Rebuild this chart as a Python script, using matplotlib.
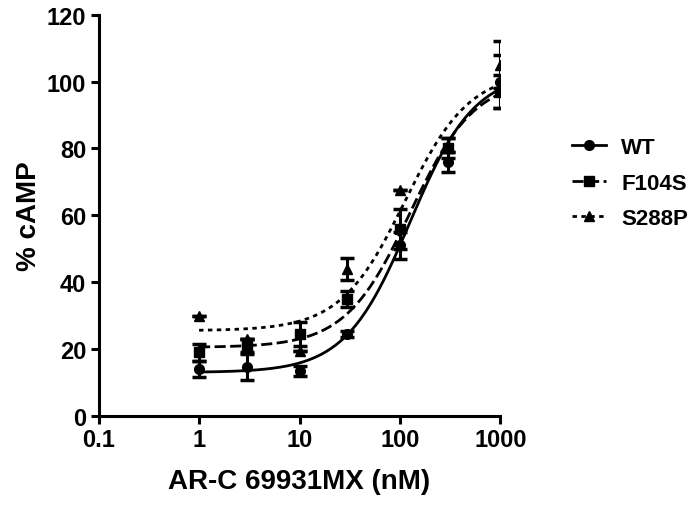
import numpy as np
import matplotlib
matplotlib.use('Agg')
import matplotlib.pyplot as plt

plt.rcParams['font.family'] = ['Liberation Sans', 'DejaVu Sans']
plt.rcParams['font.weight'] = 'bold'

# concentrations (nM)
conc = [1, 3, 10, 30, 100, 300, 1000]

wt_mean = [14, 14.6, 13.5, 24.5, 51, 76, 100]
wt_err = [2.5, 4, 1.5, 0.8, 4, 3, 8]
f104s_mean = [19, 21, 24.5, 35, 56, 80, 97]
f104s_err = [2.5, 2, 3.5, 2.5, 6, 3, 5]
s288p_mean = [30, 23, 19.5, 44, 67.5, 81, 105]
s288p_err = [0, 0, 0, 3.2, 0, 2, 7]

# fitted sigmoid parameters: bottom, top, logEC50, hill slope
wt_fit = [13, 103, 2.1, 1.35]
f104s_fit = [20.5, 101, 2.1, 1.35]
s288p_fit = [25.5, 103, 2.05, 1.35]

series = [
    ('WT', wt_mean, wt_err, wt_fit, 'o', '-'),
    ('F104S', f104s_mean, f104s_err, f104s_fit, 's', (0, (4, 1.6))),
    ('S288P', s288p_mean, s288p_err, s288p_fit, '^', (0, (1.6, 1.6))),
]


def sigmoid(x, bottom, top, logec50, hill):
    return bottom + (top - bottom) / (1 + 10 ** ((logec50 - np.log10(x)) * hill))


fig = plt.figure(figsize=(6.99, 5.06), dpi=100)
ax = fig.add_axes([0.141, 0.176, 0.575, 0.793])

xs = np.logspace(0, 3, 200)
handles = []
for name, mean, err, fit, mk, ls in series:
    ax.errorbar(conc, mean, yerr=err, fmt=mk, color='black', ms=7,
                elinewidth=2.2, capsize=5, capthick=2.5, zorder=3)
    ax.plot(xs, sigmoid(xs, *fit), color='black', lw=2, linestyle=ls)
    h, = ax.plot([], [], color='black', lw=2, linestyle=ls, marker=mk, ms=7)
    handles.append(h)

ax.set_xscale('log')
ax.set_xlim(0.1, 1000)
ax.set_ylim(0, 120)
ax.set_yticks(range(0, 121, 20))
ax.set_xticks([0.1, 1, 10, 100, 1000])
ax.set_xticklabels(['0.1', '1', '10', '100', '1000'])
ax.xaxis.set_minor_locator(matplotlib.ticker.NullLocator())

for s in ['top', 'right']:
    ax.spines[s].set_visible(False)
for s in ['left', 'bottom']:
    ax.spines[s].set_linewidth(2.2)
ax.tick_params(width=2.2, length=6, labelsize=17, pad=3)
for lab in ax.get_xticklabels() + ax.get_yticklabels():
    lab.set_fontweight('bold')

ax.set_xlabel('AR-C 69931MX (nM)', fontsize=20, fontweight='bold', labelpad=12)
ax.set_ylabel('% cAMP', fontsize=20, fontweight='bold', labelpad=3)

fig.legend(handles, ['WT', 'F104S', 'S288P'], loc='center left',
           bbox_to_anchor=(0.79, 0.636), frameon=False,
           handlelength=1.5, handletextpad=0.7, labelspacing=0.65,
           prop={'weight': 'bold', 'size': 16})

fig.savefig('out.png', dpi=100)
